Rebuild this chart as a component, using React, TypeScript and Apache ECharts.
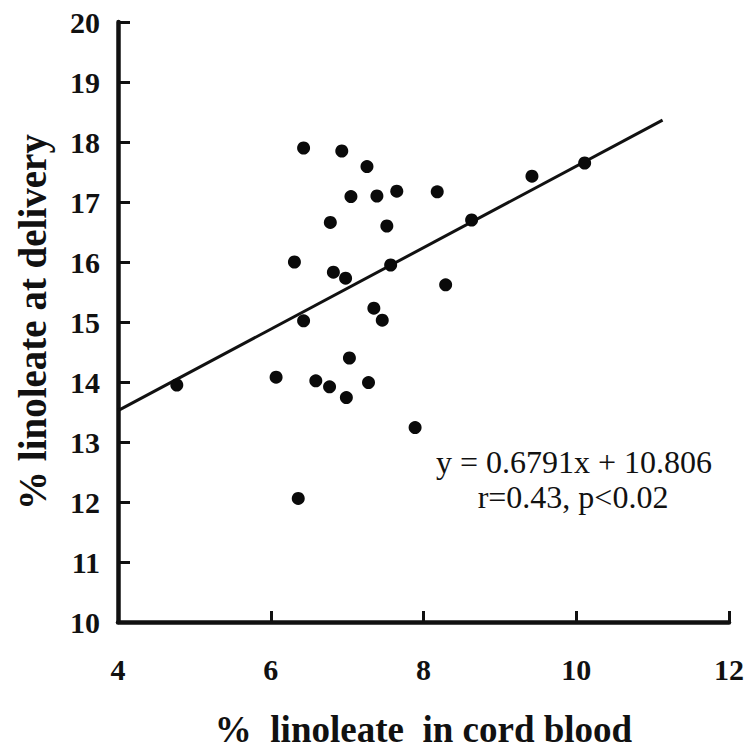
import React, { useEffect, useRef } from "react";
import * as echarts from "echarts";

// % linoleate in cord blood (x) and % linoleate at delivery (y)
const cordBlood = [6.43, 6.93, 7.26, 7.05, 7.39, 7.65, 8.18, 6.78, 7.52, 8.63, 6.31, 6.82, 6.98, 7.57, 8.29, 7.35, 7.46, 6.43, 7.03, 6.07, 6.59, 6.77, 7.28, 6.99, 7.89, 4.77, 9.42, 10.11, 6.36];
const delivery = [17.9, 17.85, 17.59, 17.09, 17.1, 17.18, 17.17, 16.66, 16.6, 16.7, 16.0, 15.83, 15.73, 15.95, 15.62, 15.23, 15.03, 15.02, 14.4, 14.08, 14.02, 13.92, 13.99, 13.74, 13.24, 13.95, 17.43, 17.65, 12.06];

// regression y = slope * x + intercept
const slope = 0.6791;
const intercept = 10.806;
const fitRange = [4, 11.13];

const equationText = "y = 0.6791x + 10.806";
const statsText = "r=0.43, p<0.02";

const xTitle = "%  linoleate  in cord blood";
const yTitle = "% linoleate at delivery";

const SERIF = "'Liberation Serif', 'Times New Roman', serif";

export default function App() {
  const ref = useRef<HTMLDivElement>(null);
  useEffect(() => {
    if (!ref.current) return;
    const chart = echarts.init(ref.current, undefined, { renderer: "svg" });
    const points = cordBlood.map((x, i) => [x, delivery[i]]);
    const fit = fitRange.map((x) => [x, slope * x + intercept]);
    chart.setOption({
      animation: false,
      backgroundColor: "#ffffff",
      grid: { left: 118, right: 18, top: 22, bottom: 131, containLabel: false, outerBoundsMode: "none" },
      xAxis: {
        type: "value",
        min: 4,
        max: 12,
        interval: 2,
        name: xTitle,
        nameLocation: "middle",
        nameGap: 89,
        nameTextStyle: { fontFamily: SERIF, fontWeight: "bold", fontSize: 37, color: "#111" },
        axisLine: { show: true, lineStyle: { color: "#111", width: 4.5 } },
        axisTick: { show: true, inside: true, length: 11, lineStyle: { color: "#111", width: 3 } },
        axisLabel: { fontFamily: SERIF, fontWeight: "bold", fontSize: 30, color: "#111", margin: 32 },
        splitLine: { show: false },
      },
      yAxis: {
        type: "value",
        min: 10,
        max: 20,
        interval: 1,
        name: yTitle,
        nameLocation: "middle",
        nameGap: 66,
        nameTextStyle: { fontFamily: SERIF, fontWeight: "bold", fontSize: 39, color: "#111" },
        axisLine: { show: true, lineStyle: { color: "#111", width: 4.5 } },
        axisTick: { show: true, inside: true, length: 12, lineStyle: { color: "#111", width: 3 } },
        axisLabel: { fontFamily: SERIF, fontWeight: "bold", fontSize: 30, color: "#111", margin: 18 },
        splitLine: { show: false },
      },
      graphic: [
        {
          type: "text",
          x: 574,
          y: 462,
          style: { text: equationText, font: `32px ${SERIF}`, fill: "#111", textAlign: "center", textVerticalAlign: "middle" },
        },
        {
          type: "text",
          x: 573,
          y: 497,
          style: { text: statsText, font: `32px ${SERIF}`, fill: "#111", textAlign: "center", textVerticalAlign: "middle" },
        },
      ],
      series: [
        {
          type: "line",
          data: fit,
          showSymbol: false,
          symbol: "none",
          lineStyle: { color: "#111", width: 3 },
          z: 3,
        },
        {
          type: "scatter",
          data: points,
          symbol: "circle",
          symbolSize: 13,
          itemStyle: { color: "#0a0a0a", opacity: 1 },
          z: 4,
        },
      ],
    });
    return () => chart.dispose();
  }, []);
  return (
    <div
      ref={ref}
      style={{ position: "absolute", left: 0, top: 0, width: 747, height: 753, background: "#fff" }}
    />
  );
}
